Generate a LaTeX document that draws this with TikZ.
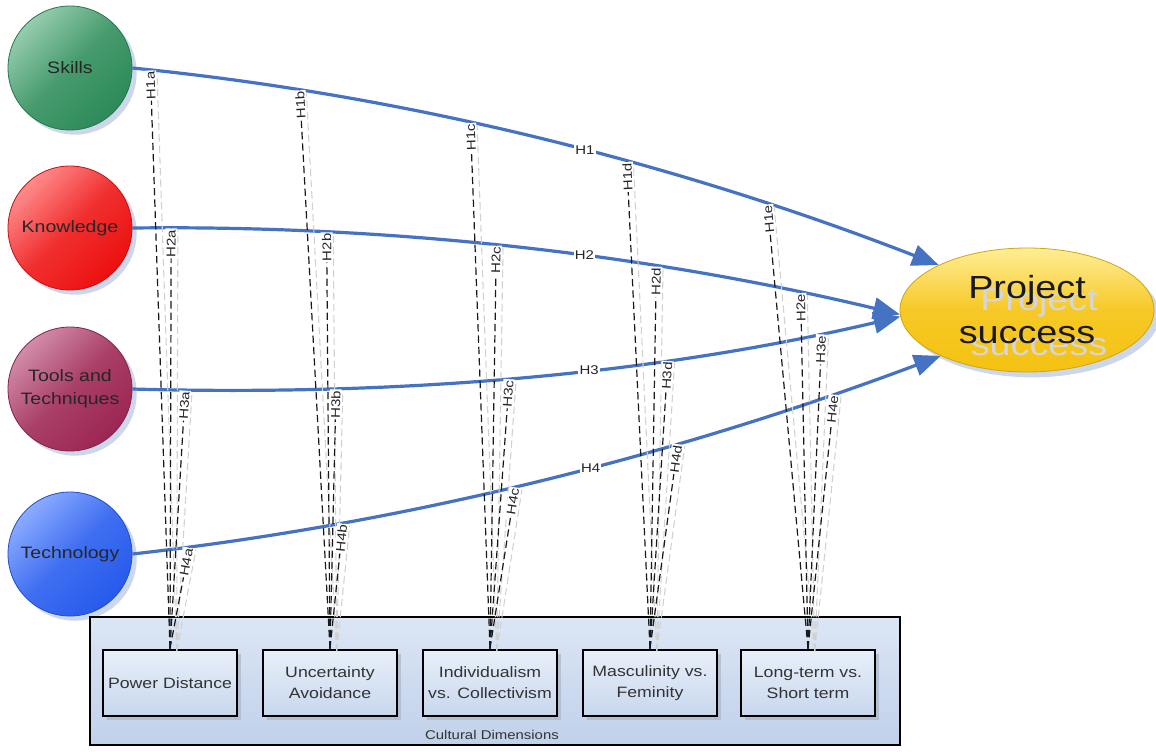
\documentclass[tikz,border=0pt]{standalone}
\usepackage{fontspec}
\setmainfont{Liberation Sans}[FakeStretch=1.18]
\usetikzlibrary{arrows.meta,shadows,shapes.geometric}

\definecolor{arrowblue}{RGB}{70,114,196}
\definecolor{shadowblue}{RGB}{205,215,236}
\definecolor{skillsgreen}{RGB}{44,138,88}
\definecolor{skillslight}{RGB}{150,205,175}
\definecolor{knowred}{RGB}{236,16,16}
\definecolor{knowlight}{RGB}{255,140,140}
\definecolor{toolsred}{RGB}{156,38,82}
\definecolor{toolslight}{RGB}{210,140,170}
\definecolor{techblue}{RGB}{38,90,236}
\definecolor{techlight}{RGB}{140,172,255}
\definecolor{gold}{RGB}{245,194,18}
\definecolor{goldlight}{RGB}{255,238,150}
\definecolor{panelblue}{RGB}{192,209,234}
\definecolor{panellight}{RGB}{220,230,245}
\definecolor{boxblue}{RGB}{200,215,238}
\definecolor{boxlight}{RGB}{232,239,249}

\tikzset{
  factor/.style 2 args={circle, inner sep=0pt, minimum size=93pt,
    draw=#1!85!black, line width=0.6pt,
    top color=#2, bottom color=#1, middle color=#1!75!#2, shading angle=45,
    drop shadow={fill=shadowblue, opacity=1, shadow xshift=3.5pt, shadow yshift=-3.5pt},
    font=\fontsize{12.4}{17}\selectfont, text=black!85, align=center},
  outcome/.style={ellipse, inner sep=0pt, minimum width=190.5pt, minimum height=93pt,
    draw=gold!85!black, line width=0.6pt,
    top color=goldlight, bottom color=gold, middle color=gold!85!goldlight,
    drop shadow={fill=shadowblue, opacity=1, shadow xshift=4pt, shadow yshift=-4pt},
    font=\fontsize{24}{33.7}\selectfont, text=black!90, align=center},
  panel/.style={rectangle, inner sep=0pt, minimum width=607.5pt, minimum height=96pt,
    draw=black, line width=2.2pt, top color=panellight, bottom color=panelblue},
  dimbox/.style={rectangle, inner sep=0pt, minimum width=100.5pt, minimum height=49.5pt,
    draw=black, line width=2.2pt, top color=boxlight, bottom color=boxblue,
    drop shadow={fill=panelblue!80!black!90, opacity=0.6, shadow xshift=3pt, shadow yshift=-3pt},
    font=\fontsize{11.25}{15.75}\selectfont, text=black!80, align=center},
  effect/.style={draw=arrowblue, line width=2.4pt,
    -{Triangle[length=20pt,width=16pt]}},
  effectlabel/.style={fill=white, inner sep=1pt, font=\fontsize{9.5}{11}\selectfont, text=black!85},
  moderation/.style={draw=black!90, line width=0.9pt, dash pattern=on 5.5pt off 3pt},
  modshadow/.style={draw=black!18, line width=0.8pt, dash pattern=on 5.5pt off 3pt},
  modlabel/.style={pos=1, sloped, allow upside down, anchor=east, fill=white, inner sep=1pt,
    font=\fontsize{9.5}{11}\selectfont, text=black!85},
}

\begin{document}
\begin{tikzpicture}[x=0.75pt, y=-0.75pt]
  \useasboundingbox[fill=white] (0,0) rectangle (1156,751);

  % constructs
  \node[factor={skillsgreen}{skillslight}] (skills) at (70,68) {Skills};
  \node[factor={knowred}{knowlight}] (know) at (70,228) {Knowledge};
  \node[factor={toolsred}{toolslight}] (tools) at (70,389) {Tools and\\Techniques};
  \node[factor={techblue}{techlight}] (tech) at (70,554) {Technology};

  \node[outcome, path picture={
      \node[text=black!16, font=\fontsize{24}{33.7}\selectfont, align=center]
        at ([shift={(9pt,-9pt)}]path picture bounding box.center) {Project\\success};}]
    (ps) at (1027,310) {Project\\success};

  % cultural dimensions
  \node[panel] (cd) at (495,681) {};
  \node[font=\fontsize{9.5}{11}\selectfont, text=black!80] (cdlabel) at (492,735) {Cultural Dimensions};
  \node[dimbox] (pd) at (170,683) {Power Distance};
  \node[dimbox] (ua) at (330,683) {Uncertainty\\Avoidance};
  \node[dimbox] (ic) at (490,683) {Individualism\\vs. Collectivism};
  \node[dimbox] (mf) at (650,683) {Masculinity vs.\\Feminity};
  \node[dimbox] (lt) at (808,683) {Long-term vs.\\Short term};

  % direct effects
  \draw[effect] (skills.east) .. controls (399,94.5) and (668,160) .. (ps.153)
    coordinate[pos=0.0224] (t1a) coordinate[pos=0.2087] (t1b)
    coordinate[pos=0.4211] (t1c) coordinate[pos=0.6149] (t1d)
    coordinate[pos=0.7888] (t1e)
    node[pos=0.563, effectlabel] (l1) {H1};
  \draw[effect] (know.east) .. controls (387,225) and (643,253) .. (ps.182)
    coordinate[pos=0.0508] (t2a) coordinate[pos=0.2539] (t2b)
    coordinate[pos=0.4753] (t2c) coordinate[pos=0.6836] (t2d)
    coordinate[pos=0.8711] (t2e)
    node[pos=0.59, effectlabel] (l2) {H2};
  \draw[effect] (tools.east) .. controls (387,396) and (643,377) .. (ps.183)
    coordinate[pos=0.0692] (t3a) coordinate[pos=0.2663] (t3b)
    coordinate[pos=0.4922] (t3c) coordinate[pos=0.6984] (t3d)
    coordinate[pos=0.8982] (t3e)
    node[pos=0.596, effectlabel] (l3) {H3};
  \draw[effect] (tech.east) .. controls (400,524) and (668.5,458) .. (ps.208)
    coordinate[pos=0.0708] (t4a) coordinate[pos=0.2621] (t4b)
    coordinate[pos=0.4758] (t4c) coordinate[pos=0.6770] (t4d)
    coordinate[pos=0.8696] (t4e)
    node[pos=0.569, effectlabel] (l4) {H4};

  % moderating links, shadows first
  \foreach \c/\b in {a/pd, b/ua, c/ic, d/mf, e/lt} {
    \foreach \r in {1,2,3,4} {
      \draw[modshadow] ([shift={(5pt,-2pt)}]\b.north) -- ([shift={(5pt,-2pt)}]t\r\c);
    }
  }
  \foreach \c/\b in {a/pd, b/ua, c/ic, d/mf, e/lt} {
    \foreach \r in {1,2,3,4} {
      \draw[moderation] (\b.north) -- node[modlabel] {H\r\c} (t\r\c);
    }
  }
\end{tikzpicture}
\end{document}
